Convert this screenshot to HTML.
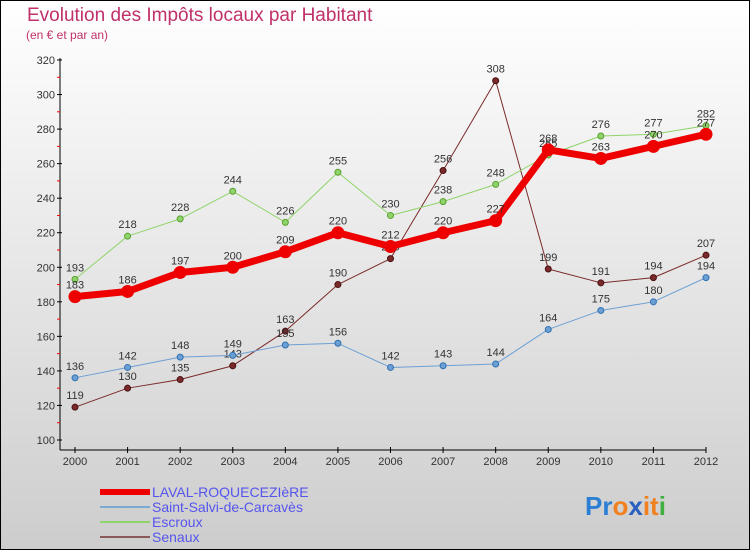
<!DOCTYPE html>
<html><head><meta charset="utf-8"><style>
html,body{margin:0;padding:0}
body{width:750px;height:550px;overflow:hidden;font-family:"Liberation Sans",sans-serif}
svg text{font-family:"Liberation Sans",sans-serif}
</style></head><body>
<svg id="chart" width="750" height="550">
<defs><linearGradient id="bg" x1="0" y1="0" x2="0" y2="1"><stop offset="0" stop-color="#ffffff"/><stop offset="1" stop-color="#cdcdcd"/></linearGradient></defs>
<rect x="0.5" y="0.5" width="749" height="549" fill="url(#bg)" stroke="#000"/>
<text x="27" y="21" font-size="19" fill="#c0306a">Evolution des Impôts locaux par Habitant</text>
<text x="26" y="39" font-size="12" fill="#c0306a">(en € et par an)</text>
<g id="axes"></g>
<g id="series"></g>
<g id="legend"></g>
<text x="585" y="515" font-size="26" font-weight="bold"><tspan fill="#2a7fd4">Pr</tspan><tspan fill="#f08020">o</tspan><tspan fill="#2a5fc0">x</tspan><tspan fill="#f08020">it</tspan><tspan fill="#40b040">i</tspan></text>
</svg>
<script>
const years=[2000,2001,2002,2003,2004,2005,2006,2007,2008,2009,2010,2011,2012];
const yTicks=[100,120,140,160,180,200,220,240,260,280,300,320];
const laval=[183,186,197,200,209,220,212,220,227,268,263,270,277];
const salvi=[136,142,148,149,155,156,142,143,144,164,175,180,194];
const escroux=[193,218,228,244,226,255,230,238,248,265,276,277,282];
const senaux=[119,130,135,143,163,190,205,256,308,199,191,194,207];
const NS="http://www.w3.org/2000/svg";
const X=i=>75+i*(706-75)/12;
const Y=v=>440-(v-100)*380/220;
function mk(tag,attrs,parent){const e=document.createElementNS(NS,tag);for(const k in attrs)e.setAttribute(k,attrs[k]);parent.appendChild(e);return e;}
const axes=document.getElementById('axes');
let yl=mk('line',{x1:60,y1:58,x2:60,y2:450,stroke:'#000'},axes);


let xl=mk('line',{x1:60,y1:450,x2:706,y2:450,stroke:'#000'},axes);


yTicks.forEach((t,i)=>{
  mk('line',{x1:57,y1:Y(t),x2:62,y2:Y(t),stroke:'#000'},axes);
  if(i<yTicks.length-1) mk('line',{x1:57,y1:Y(t+10),x2:60,y2:Y(t+10),stroke:'#f00'},axes);
  const tx=mk('text',{x:55,y:Y(t)+4,'font-size':11,'text-anchor':'end',fill:'#333'},axes);
  tx.textContent=t;
  
  
});
years.forEach((yr,i)=>{
  mk('line',{x1:X(i),y1:447,x2:X(i),y2:453,stroke:'#000'},axes);
  const tx=mk('text',{x:X(i),y:465,'font-size':11,'text-anchor':'middle',fill:'#333'},axes);
  tx.textContent=yr;
  
  
});
const ser=document.getElementById('series');
function draw(data,color,w,r,name,dotStroke){
  const g=mk('g',{},ser);
  
  
  const pl=mk('polyline',{points:data.map((v,i)=>X(i)+','+Y(v)).join(' '),fill:'none',stroke:color,'stroke-width':w,'stroke-linejoin':'round'},g);
  
  
  data.forEach((v,i)=>{
    const c=mk('circle',{cx:X(i),cy:Y(v),r:r,fill:color,stroke:dotStroke,'stroke-width':1},g);
    
    
    const t=mk('text',{x:X(i),y:Y(v)-8,'font-size':11,'text-anchor':'middle',fill:'#333'},g);
    t.textContent=v;
    
    
  });
}
draw(senaux,'#7a2a2a',1,3,'senaux','#4a1010');
draw(escroux,'#8fd46a',1,3,'escroux','#5aa030');
draw(salvi,'#6ca0d4',1,3,'saint-salvi','#3070b0');
draw(laval,'#ee0000',7,6,'laval','#ee0000');
const lg=document.getElementById('legend');
const items=[['LAVAL-ROQUECEZIèRE','#ee0000',6],['Saint-Salvi-de-Carcavès','#7aaad4',2],['Escroux','#8fd46a',2],['Senaux','#8a5a5a',2]];
items.forEach((it,i)=>{
  const y=492+i*15;
  const g=mk('g',{},lg);
  
  
  mk('line',{x1:100,y1:y,x2:150,y2:y,stroke:it[1],'stroke-width':it[2]},g);
  const t=mk('text',{x:152,y:y+5,'font-size':14,fill:'#5555ee'},g);
  t.textContent=it[0];
});
</script>
</body></html>
